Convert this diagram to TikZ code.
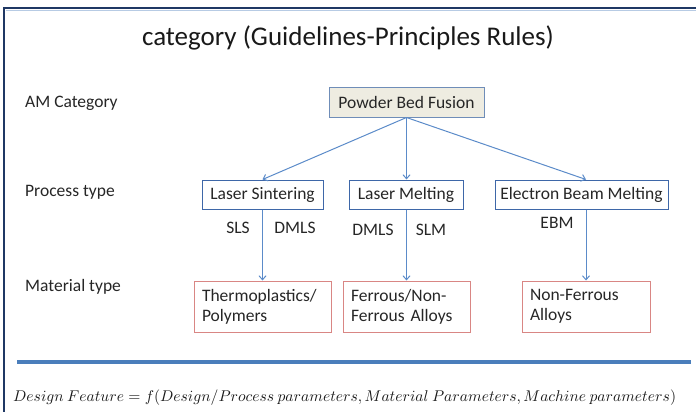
\documentclass[tikz,border=0pt]{standalone}
\usepackage{fontspec}
\usepackage{graphicx}
\setmainfont{Carlito}
\usetikzlibrary{arrows.meta}
\definecolor{navy}{HTML}{1F3864}
\definecolor{sepblue}{HTML}{4A7EBB}
\definecolor{arrblue}{HTML}{5B8BC9}
\definecolor{boxblue}{HTML}{3E67A8}
\definecolor{pbfborder}{HTML}{6F8DB8}
\definecolor{pbffill}{HTML}{EEECE1}
\definecolor{matred}{HTML}{D98684}
\tikzset{
  lbl/.style={font=\fontsize{17.5}{20}\selectfont, inner sep=0pt, text=black!85},
  procbox/.style={draw=boxblue, line width=1pt, minimum height=29pt, inner sep=0pt, font=\fontsize{17.5}{20}\selectfont, text=black!85},
  matbox/.style={draw=matred, line width=1pt, minimum height=51pt, inner xsep=8pt, inner ysep=0pt, align=left, font=\fontsize{17.5}{20}\selectfont, text=black!85},
  conn/.style={draw=arrblue, line width=1pt, -{Straight Barb[length=4pt,width=7pt]}}
}
\begin{document}
\begin{tikzpicture}[x=1pt,y=-1pt]
\useasboundingbox (0,0) rectangle (696,412);
% frame
\draw[navy, line width=2.2pt] (4,412) -- (4,8) -- (696,8);
\draw[sepblue!40, line width=0.8pt] (5.5,10) -- (696,10);
% title
\node[font=\fontsize{27}{30}\selectfont, inner sep=0pt, text=black!90] (title) at (348,38) {category (Guidelines-Principles Rules)};
% left labels
\node[lbl, anchor=west] (lamc) at (25,103) {AM Category};
\node[lbl, anchor=west] (lpt) at (25,192) {Process type};
\node[lbl, anchor=west] (lmt) at (25,287) {Material type};
% top box
\node[draw=pbfborder, fill=pbffill, line width=1pt, minimum width=155pt, minimum height=30pt, inner sep=0pt, font=\fontsize{17.5}{20}\selectfont, text=black!85] (pbf) at (406.5,102) {Powder Bed Fusion};
% process boxes
\node[procbox, minimum width=121pt] (ls) at (262.5,194.5) {Laser Sintering};
\node[procbox, minimum width=114pt] (lm) at (406,194.5) {Laser Melting};
\node[procbox, minimum width=173pt] (ebm) at (581.5,194.5) {Electron Beam Melting};
% material boxes
\node[matbox, minimum width=137pt, text width=121pt] (thermo) at (262.5,306.5) {Thermoplastics/\\Polymers};
\node[matbox, minimum width=127pt, text width=111pt] (ferr) at (406.5,306.5) {Ferrous/Non-\\Ferrous Alloys};
\node[matbox, minimum width=128pt, text width=112pt] (nonf) at (586,306.5) {Non-Ferrous\\Alloys};
% process labels
\node[lbl] (sls) at (238,228) {SLS};
\node[lbl] (dmls1) at (295,228) {DMLS};
\node[lbl] (dmls2) at (373,230) {DMLS};
\node[lbl] (slm) at (431,230) {SLM};
\node[lbl] (ebml) at (557,223) {EBM};
% connectors
\draw[conn] (pbf.south) -- (ls.north);
\draw[conn] (pbf.south) -- (pbf.south |- lm.north);
\draw[conn] (pbf.south) -- (nonf.north |- ebm.north);
\draw[conn] (ls.south) -- (ls.south |- thermo.north);
\draw[conn] (pbf.south |- lm.south) -- (pbf.south |- ferr.north);
\draw[conn] (nonf.north |- ebm.south) -- (nonf.north);
% separator
\draw[sepblue, line width=4pt] (17,362) -- (691,362);
% formula
\node[anchor=west, inner sep=0pt, text=black!90] (formula) at (13,398) {\resizebox{663pt}{!}{$Design\ Feature = f(Design/Process\ parameters, Material\ Parameters, Machine\ parameters)$}};
\end{tikzpicture}
\end{document}
